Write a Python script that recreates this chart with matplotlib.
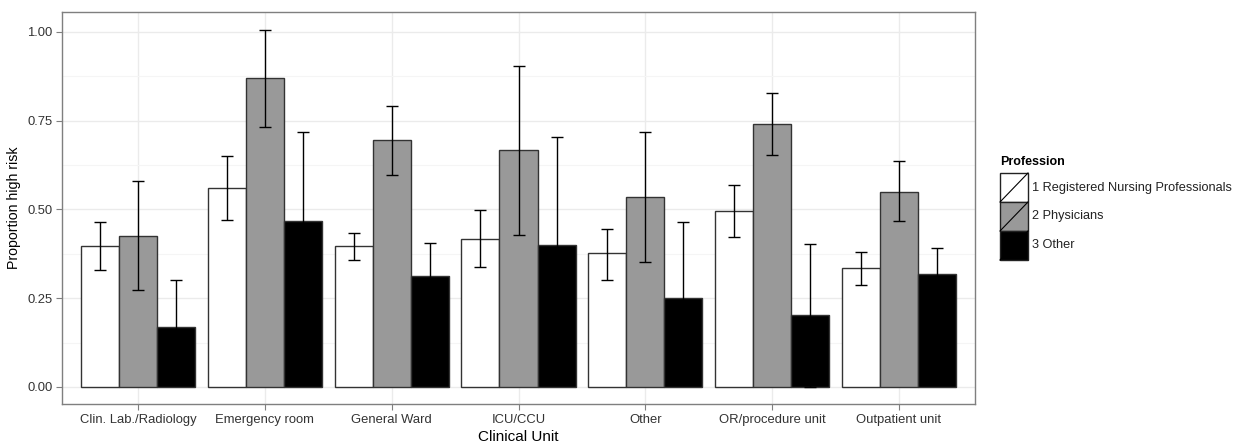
import matplotlib
matplotlib.use("Agg")
import matplotlib.pyplot as plt
from matplotlib.patches import Rectangle
from matplotlib.lines import Line2D
import numpy as np

plt.rcParams['font.family'] = ['Liberation Sans', 'DejaVu Sans']

units = ["Clin. Lab./Radiology", "Emergency room", "General Ward", "ICU/CCU",
         "Other", "OR/procedure unit", "Outpatient unit"]
professions = ["1 Registered Nursing Professionals", "2 Physicians", "3 Other"]
fills = ["#FFFFFF", "#999999", "#000000"]

nurse_mean = [0.397, 0.561, 0.397, 0.418, 0.376, 0.496, 0.334]
nurse_low  = [0.330, 0.470, 0.358, 0.337, 0.302, 0.421, 0.287]
nurse_high = [0.465, 0.651, 0.434, 0.499, 0.445, 0.568, 0.379]

phys_mean = [0.425, 0.870, 0.696, 0.667, 0.536, 0.740, 0.550]
phys_low  = [0.273, 0.732, 0.597, 0.428, 0.351, 0.652, 0.468]
phys_high = [0.580, 1.006, 0.792, 0.905, 0.718, 0.827, 0.635]

other_mean = [0.169, 0.468, 0.313, 0.401, 0.250, 0.202, 0.319]
other_low  = [0.037, 0.218, 0.220, 0.097, 0.036, 0.001, 0.246]
other_high = [0.301, 0.718, 0.406, 0.705, 0.464, 0.403, 0.392]

means = [nurse_mean, phys_mean, other_mean]
lows = [nurse_low, phys_low, other_low]
highs = [nurse_high, phys_high, other_high]

W, H = 1241, 446
fig = plt.figure(figsize=(W / 100, H / 100), dpi=100)
ax = fig.add_axes([62 / W, (H - 404) / H, (975 - 62) / W, (404 - 12) / H])

x = np.arange(1, len(units) + 1)
bw = 0.3
for i in range(3):
    xs = x + (i - 1) * bw
    ax.bar(xs, means[i], width=bw, color=fills[i], edgecolor="#333333",
           linewidth=1.0, zorder=3)
for i in range(3):
    xs = x + (i - 1) * bw
    m = np.array(means[i]); lo = np.array(lows[i]); hi = np.array(highs[i])
    ax.errorbar(xs, m, yerr=[m - lo, hi - m], fmt="none", ecolor="#000000",
                elinewidth=1.0, capsize=4, capthick=1.0, zorder=4)

ax.set_xlim(0.4, 7.6)
ax.set_ylim(-0.048, 1.056)
ax.set_yticks([0, 0.25, 0.5, 0.75, 1.0])
ax.set_yticklabels(["0.00", "0.25", "0.50", "0.75", "1.00"])
ax.set_yticks([0.125, 0.375, 0.625, 0.875], minor=True)
ax.set_xticks(x)
ax.set_xticklabels(units)
ax.grid(True, which="major", color="#EBEBEB", linewidth=1.0, zorder=0)
ax.grid(True, which="minor", axis="y", color="#F5F5F5", linewidth=0.8, zorder=0)
ax.set_axisbelow(True)
for s in ax.spines.values():
    s.set_color("#7F7F7F")
    s.set_linewidth(1.0)
ax.tick_params(axis="both", which="major", direction="out", length=4,
               color="#7F7F7F", labelsize=9.4, labelcolor="#333333", pad=3)
ax.tick_params(axis="y", which="minor", length=0)
ax.set_xlabel("Clinical Unit", fontsize=11, labelpad=3)
ax.set_ylabel("Proportion high risk", fontsize=10.2, labelpad=4)

# legend drawn in figure pixel coordinates
def fx(px):
    return px / W
def fy(py):
    return (H - py) / H

fig.text(fx(1000), fy(162), "Profession", fontsize=9, fontweight="bold",
         ha="left", va="center")
key_top = 173
key_h = 29
for i, (lab, col) in enumerate(zip(professions, fills)):
    t = key_top + i * key_h
    fig.add_artist(Rectangle((fx(1000), fy(t + key_h)), fx(28), key_h / H,
                             transform=fig.transFigure, facecolor=col,
                             edgecolor="#222222", linewidth=1.0))
    fig.add_artist(Line2D([fx(1000), fx(1028)], [fy(t + key_h), fy(t)],
                          transform=fig.transFigure, color="#000000",
                          linewidth=0.8))
    fig.text(fx(1032), fy(t + key_h / 2), lab, fontsize=9.2, ha="left",
             va="center", color="#222222")

fig.savefig("out.png", dpi=100)
